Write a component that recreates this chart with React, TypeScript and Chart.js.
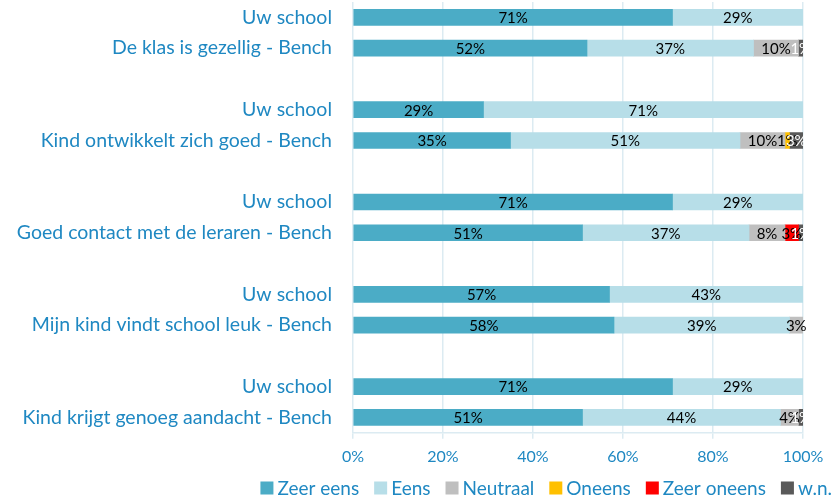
import React, { useEffect, useRef } from "react";
import { Chart, registerables } from "chart.js";

Chart.register(...registerables);

const categories = [
  "Uw school",
  "De klas is gezellig - Bench",
  "",
  "Uw school",
  "Kind ontwikkelt zich goed - Bench",
  "",
  "Uw school",
  "Goed contact met de leraren - Bench",
  "",
  "Uw school",
  "Mijn kind vindt school leuk - Bench",
  "",
  "Uw school",
  "Kind krijgt genoeg aandacht - Bench",
];

const zeerEens = [71, 52, 0, 29, 35, 0, 71, 51, 0, 57, 58, 0, 71, 51];
const eens = [29, 37, 0, 71, 51, 0, 29, 37, 0, 43, 39, 0, 29, 44];
const neutraal = [0, 10, 0, 0, 10, 0, 0, 8, 0, 0, 3, 0, 0, 4];
const oneens = [0, 0, 0, 0, 1, 0, 0, 0, 0, 0, 0, 0, 0, 0];
const zeerOneens = [0, 0, 0, 0, 0, 0, 0, 3, 0, 0, 0, 0, 0, 0];
const wn = [0, 1, 0, 0, 3, 0, 0, 1, 0, 0, 0, 0, 0, 1];

const seriesNames = ["Zeer eens", "Eens", "Neutraal", "Oneens", "Zeer oneens", "w.n."];
const seriesColors = ["#4BACC6", "#B7DEE8", "#BFBFBF", "#FFC000", "#FF0000", "#595959"];
const labelColors = ["#000000", "#000000", "#000000", "#000000", "#000000", "#FFFFFF"];

const xTicks = [0, 20, 40, 60, 80, 100];

const BLUE = "#1F88C2";
const GRID = "#DCEBF2";
const FONT = "Lato, 'Open Sans', sans-serif";

const dataLabelPlugin = {
  id: "dataLabels",
  afterDatasetsDraw(chart: any) {
    const ctx = chart.ctx;
    ctx.save();
    ctx.font = `15px ${FONT}`;
    ctx.textAlign = "center";
    ctx.textBaseline = "middle";
    chart.data.datasets.forEach((ds: any, di: number) => {
      const meta = chart.getDatasetMeta(di);
      meta.data.forEach((el: any, i: number) => {
        const v = ds.data[i];
        if (!v) return;
        const cx = (el.x + el.base) / 2;
        ctx.fillStyle = labelColors[di];
        ctx.fillText(v + "%", cx, el.y + 1);
      });
    });
    ctx.restore();
  },
};

const legendPlugin = {
  id: "customLegend",
  afterDraw(chart: any) {
    const ctx = chart.ctx;
    ctx.save();
    ctx.font = `19px ${FONT}`;
    ctx.textBaseline = "middle";
    ctx.textAlign = "left";
    const box = 13;
    const gapBoxText = 4;
    const gapItem = 15;
    const widths = seriesNames.map((n) => ctx.measureText(n).width);
    const total =
      widths.reduce((a, b) => a + b, 0) + seriesNames.length * (box + gapBoxText) + gapItem * (seriesNames.length - 1);
    const endX = 832;
    let x = endX - total;
    const y = 488;
    seriesNames.forEach((n, i) => {
      ctx.fillStyle = seriesColors[i];
      ctx.fillRect(x, y - box / 2, box, box);
      ctx.fillStyle = BLUE;
      ctx.fillText(n, x + box + gapBoxText, y + 1);
      x += box + gapBoxText + widths[i] + gapItem;
    });
    ctx.restore();
  },
};

export default function App() {
  const ref = useRef<HTMLCanvasElement | null>(null);
  useEffect(() => {
    if (!ref.current) return;
    const allSeries = [zeerEens, eens, neutraal, oneens, zeerOneens, wn];
    const chart = new Chart(ref.current, {
      type: "bar",
      data: {
        labels: categories,
        datasets: allSeries.map((d, i) => ({
          label: seriesNames[i],
          data: d.map((v) => (v ? v : null)),
          backgroundColor: seriesColors[i],
          borderWidth: 0,
          barThickness: 16,
        })),
      },
      options: {
        indexAxis: "y",
        animation: false,
        responsive: false,
        maintainAspectRatio: false,
        layout: { padding: { left: 0, right: 31, top: 2, bottom: 27 } },
        scales: {
          x: {
            stacked: true,
            min: 0,
            max: 100,
            afterBuildTicks: (scale: any) => {
              scale.ticks = xTicks.map((v) => ({ value: v }));
            },
            ticks: {
              color: BLUE,
              font: { family: FONT, size: 16 },
              padding: 8,
              callback: (v: any) => v + "%",
            },
            grid: { color: GRID, lineWidth: 1.5, tickLength: 6, drawTicks: true },
            border: { color: GRID, width: 1.5 },
          },
          y: {
            stacked: true,
            afterFit: (scale: any) => {
              scale.width = 353;
              scale.paddingTop = 0;
              scale.paddingBottom = 0;
            },
            ticks: {
              color: BLUE,
              font: { family: FONT, size: 19.5 },
              padding: 21,
              autoSkip: false,
            },
            grid: { display: false, drawTicks: false },
            border: { display: false },
          },
        },
        plugins: {
          legend: { display: false },
          tooltip: { enabled: false },
        },
      },
      plugins: [dataLabelPlugin, legendPlugin],
    });
    return () => chart.destroy();
  }, []);
  return (
    <div style={{ position: "absolute", left: 0, top: 0, width: 834, height: 501 }}>
      <canvas ref={ref} width={834} height={501} style={{ width: 834, height: 501 }} />
    </div>
  );
}
